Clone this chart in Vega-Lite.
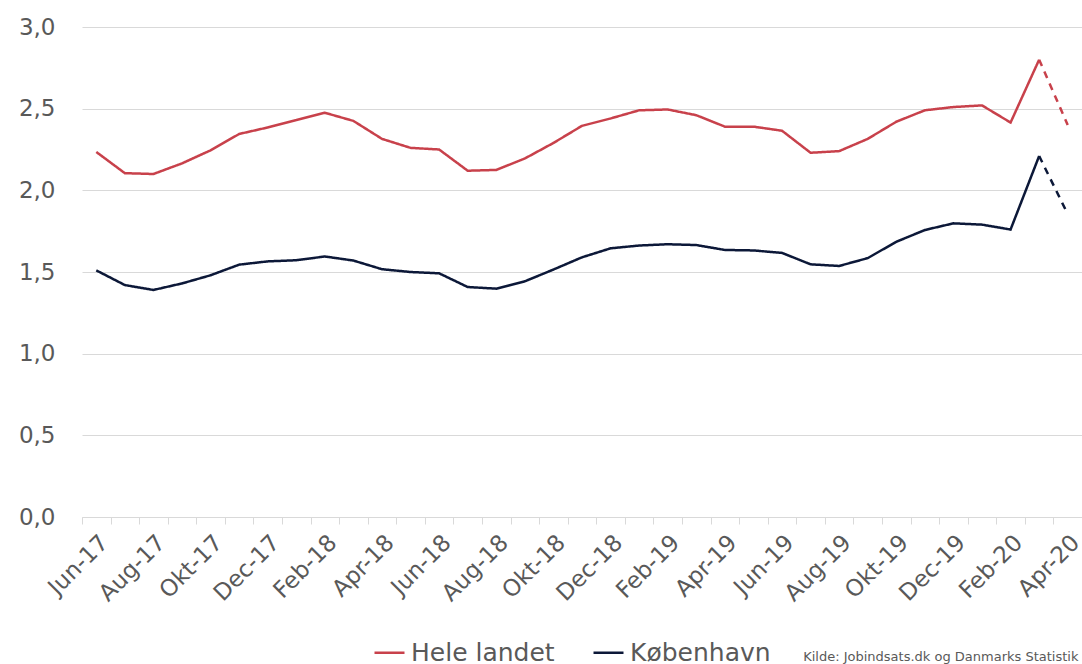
{
  "$schema": "https://vega.github.io/schema/vega-lite/v6.json",
  "width": 1000,
  "height": 490,
  "autosize": {"type": "none"},
  "padding": {"left": 82, "top": 27, "right": 0, "bottom": 147},
  "background": "white",
  "config": {"font": "DejaVu Sans", "view": {"stroke": null}},
  "data": {"values": [
    {"i":0,"m":"Jun-17","s":"Hele landet","v":2.235,"seg":"solid"},
    {"i":1,"m":"Jul-17","s":"Hele landet","v":2.105,"seg":"solid"},
    {"i":2,"m":"Aug-17","s":"Hele landet","v":2.10,"seg":"solid"},
    {"i":3,"m":"Sep-17","s":"Hele landet","v":2.165,"seg":"solid"},
    {"i":4,"m":"Okt-17","s":"Hele landet","v":2.245,"seg":"solid"},
    {"i":5,"m":"Nov-17","s":"Hele landet","v":2.345,"seg":"solid"},
    {"i":6,"m":"Dec-17","s":"Hele landet","v":2.385,"seg":"solid"},
    {"i":7,"m":"Jan-18","s":"Hele landet","v":2.43,"seg":"solid"},
    {"i":8,"m":"Feb-18","s":"Hele landet","v":2.475,"seg":"solid"},
    {"i":9,"m":"Mar-18","s":"Hele landet","v":2.425,"seg":"solid"},
    {"i":10,"m":"Apr-18","s":"Hele landet","v":2.315,"seg":"solid"},
    {"i":11,"m":"Maj-18","s":"Hele landet","v":2.26,"seg":"solid"},
    {"i":12,"m":"Jun-18","s":"Hele landet","v":2.25,"seg":"solid"},
    {"i":13,"m":"Jul-18","s":"Hele landet","v":2.12,"seg":"solid"},
    {"i":14,"m":"Aug-18","s":"Hele landet","v":2.125,"seg":"solid"},
    {"i":15,"m":"Sep-18","s":"Hele landet","v":2.195,"seg":"solid"},
    {"i":16,"m":"Okt-18","s":"Hele landet","v":2.29,"seg":"solid"},
    {"i":17,"m":"Nov-18","s":"Hele landet","v":2.395,"seg":"solid"},
    {"i":18,"m":"Dec-18","s":"Hele landet","v":2.44,"seg":"solid"},
    {"i":19,"m":"Jan-19","s":"Hele landet","v":2.49,"seg":"solid"},
    {"i":20,"m":"Feb-19","s":"Hele landet","v":2.495,"seg":"solid"},
    {"i":21,"m":"Mar-19","s":"Hele landet","v":2.46,"seg":"solid"},
    {"i":22,"m":"Apr-19","s":"Hele landet","v":2.39,"seg":"solid"},
    {"i":23,"m":"Maj-19","s":"Hele landet","v":2.39,"seg":"solid"},
    {"i":24,"m":"Jun-19","s":"Hele landet","v":2.365,"seg":"solid"},
    {"i":25,"m":"Jul-19","s":"Hele landet","v":2.23,"seg":"solid"},
    {"i":26,"m":"Aug-19","s":"Hele landet","v":2.24,"seg":"solid"},
    {"i":27,"m":"Sep-19","s":"Hele landet","v":2.315,"seg":"solid"},
    {"i":28,"m":"Okt-19","s":"Hele landet","v":2.42,"seg":"solid"},
    {"i":29,"m":"Nov-19","s":"Hele landet","v":2.49,"seg":"solid"},
    {"i":30,"m":"Dec-19","s":"Hele landet","v":2.51,"seg":"solid"},
    {"i":31,"m":"Jan-20","s":"Hele landet","v":2.52,"seg":"solid"},
    {"i":32,"m":"Feb-20","s":"Hele landet","v":2.415,"seg":"solid"},
    {"i":33,"m":"Mar-20","s":"Hele landet","v":2.80,"seg":"solid"},
    {"i":33,"m":"Mar-20","s":"Hele landet","v":2.80,"seg":"dashed"},
    {"i":34,"m":"Apr-20","s":"Hele landet","v":2.40,"seg":"dashed"},
    {"i":0,"m":"Jun-17","s":"København","v":1.51,"seg":"solid"},
    {"i":1,"m":"Jul-17","s":"København","v":1.42,"seg":"solid"},
    {"i":2,"m":"Aug-17","s":"København","v":1.39,"seg":"solid"},
    {"i":3,"m":"Sep-17","s":"København","v":1.43,"seg":"solid"},
    {"i":4,"m":"Okt-17","s":"København","v":1.48,"seg":"solid"},
    {"i":5,"m":"Nov-17","s":"København","v":1.545,"seg":"solid"},
    {"i":6,"m":"Dec-17","s":"København","v":1.565,"seg":"solid"},
    {"i":7,"m":"Jan-18","s":"København","v":1.572,"seg":"solid"},
    {"i":8,"m":"Feb-18","s":"København","v":1.595,"seg":"solid"},
    {"i":9,"m":"Mar-18","s":"København","v":1.57,"seg":"solid"},
    {"i":10,"m":"Apr-18","s":"København","v":1.517,"seg":"solid"},
    {"i":11,"m":"Maj-18","s":"København","v":1.50,"seg":"solid"},
    {"i":12,"m":"Jun-18","s":"København","v":1.492,"seg":"solid"},
    {"i":13,"m":"Jul-18","s":"København","v":1.408,"seg":"solid"},
    {"i":14,"m":"Aug-18","s":"København","v":1.398,"seg":"solid"},
    {"i":15,"m":"Sep-18","s":"København","v":1.443,"seg":"solid"},
    {"i":16,"m":"Okt-18","s":"København","v":1.515,"seg":"solid"},
    {"i":17,"m":"Nov-18","s":"København","v":1.59,"seg":"solid"},
    {"i":18,"m":"Dec-18","s":"København","v":1.645,"seg":"solid"},
    {"i":19,"m":"Jan-19","s":"København","v":1.662,"seg":"solid"},
    {"i":20,"m":"Feb-19","s":"København","v":1.67,"seg":"solid"},
    {"i":21,"m":"Mar-19","s":"København","v":1.665,"seg":"solid"},
    {"i":22,"m":"Apr-19","s":"København","v":1.635,"seg":"solid"},
    {"i":23,"m":"Maj-19","s":"København","v":1.632,"seg":"solid"},
    {"i":24,"m":"Jun-19","s":"København","v":1.617,"seg":"solid"},
    {"i":25,"m":"Jul-19","s":"København","v":1.547,"seg":"solid"},
    {"i":26,"m":"Aug-19","s":"København","v":1.537,"seg":"solid"},
    {"i":27,"m":"Sep-19","s":"København","v":1.585,"seg":"solid"},
    {"i":28,"m":"Okt-19","s":"København","v":1.685,"seg":"solid"},
    {"i":29,"m":"Nov-19","s":"København","v":1.757,"seg":"solid"},
    {"i":30,"m":"Dec-19","s":"København","v":1.798,"seg":"solid"},
    {"i":31,"m":"Jan-20","s":"København","v":1.79,"seg":"solid"},
    {"i":32,"m":"Feb-20","s":"København","v":1.76,"seg":"solid"},
    {"i":33,"m":"Mar-20","s":"København","v":2.21,"seg":"solid"},
    {"i":33,"m":"Mar-20","s":"København","v":2.21,"seg":"dashed"},
    {"i":34,"m":"Apr-20","s":"København","v":1.855,"seg":"dashed"}
  ]},
  "mark": {"type": "line", "strokeWidth": 2.5},
  "encoding": {
    "x": {
      "field": "m", "type": "ordinal", "sort": null, "bandPosition": 0.5,
      "scale": {"type": "band", "paddingInner": 0, "paddingOuter": 0},
      "axis": {
        "labelAngle": -45,
        "labelFontSize": 23,
        "labelColor": "#595959",
        "labelPadding": 7,
        "labelExpr": "indexof(['Jun','Aug','Okt','Dec','Feb','Apr'], slice(datum.label,0,3)) >= 0 ? datum.label : ''",
        "tickBand": "extent",
        "tickColor": "#d9d9d9",
        "tickSize": 7,
        "domainColor": "#d9d9d9",
        "grid": false,
        "title": "Kilde:  Jobindsats.dk og Danmarks Statistik",
        "titleFontSize": 13,
        "titleFontWeight": "normal",
        "titleColor": "#595959",
        "titleX": 996,
        "titleY": 143,
        "titleAlign": "right",
        "titleAnchor": "end",
        "titleBaseline": "alphabetic"
      }
    },
    "y": {
      "field": "v", "type": "quantitative",
      "scale": {"domain": [0, 3], "nice": false},
      "axis": {
        "values": [0, 0.5, 1, 1.5, 2, 2.5, 3],
        "labelExpr": "replace(format(datum.value, '.1f'), '.', ',')",
        "labelFontSize": 23,
        "labelColor": "#595959",
        "labelPadding": 27,
        "ticks": false,
        "domain": false,
        "gridColor": "#d9d9d9",
        "gridWidth": 1.2,
        "title": null
      }
    },
    "color": {
      "field": "s", "type": "nominal",
      "scale": {"domain": ["Hele landet", "København"], "range": ["#c8414b", "#0c1838"]},
      "legend": {
        "title": null,
        "orient": "none",
        "legendX": 291,
        "legendY": 609,
        "direction": "horizontal",
        "symbolType": "stroke",
        "symbolSize": 900,
        "symbolStrokeWidth": 2.5,
        "labelFontSize": 25,
        "labelColor": "#595959",
        "labelOffset": 5,
        "columnPadding": 33
      }
    },
    "strokeDash": {
      "field": "seg", "type": "nominal",
      "scale": {"domain": ["solid", "dashed"], "range": [[1, 0], [7, 6]]},
      "legend": null
    },
    "order": {"field": "i", "type": "quantitative"}
  }
}
